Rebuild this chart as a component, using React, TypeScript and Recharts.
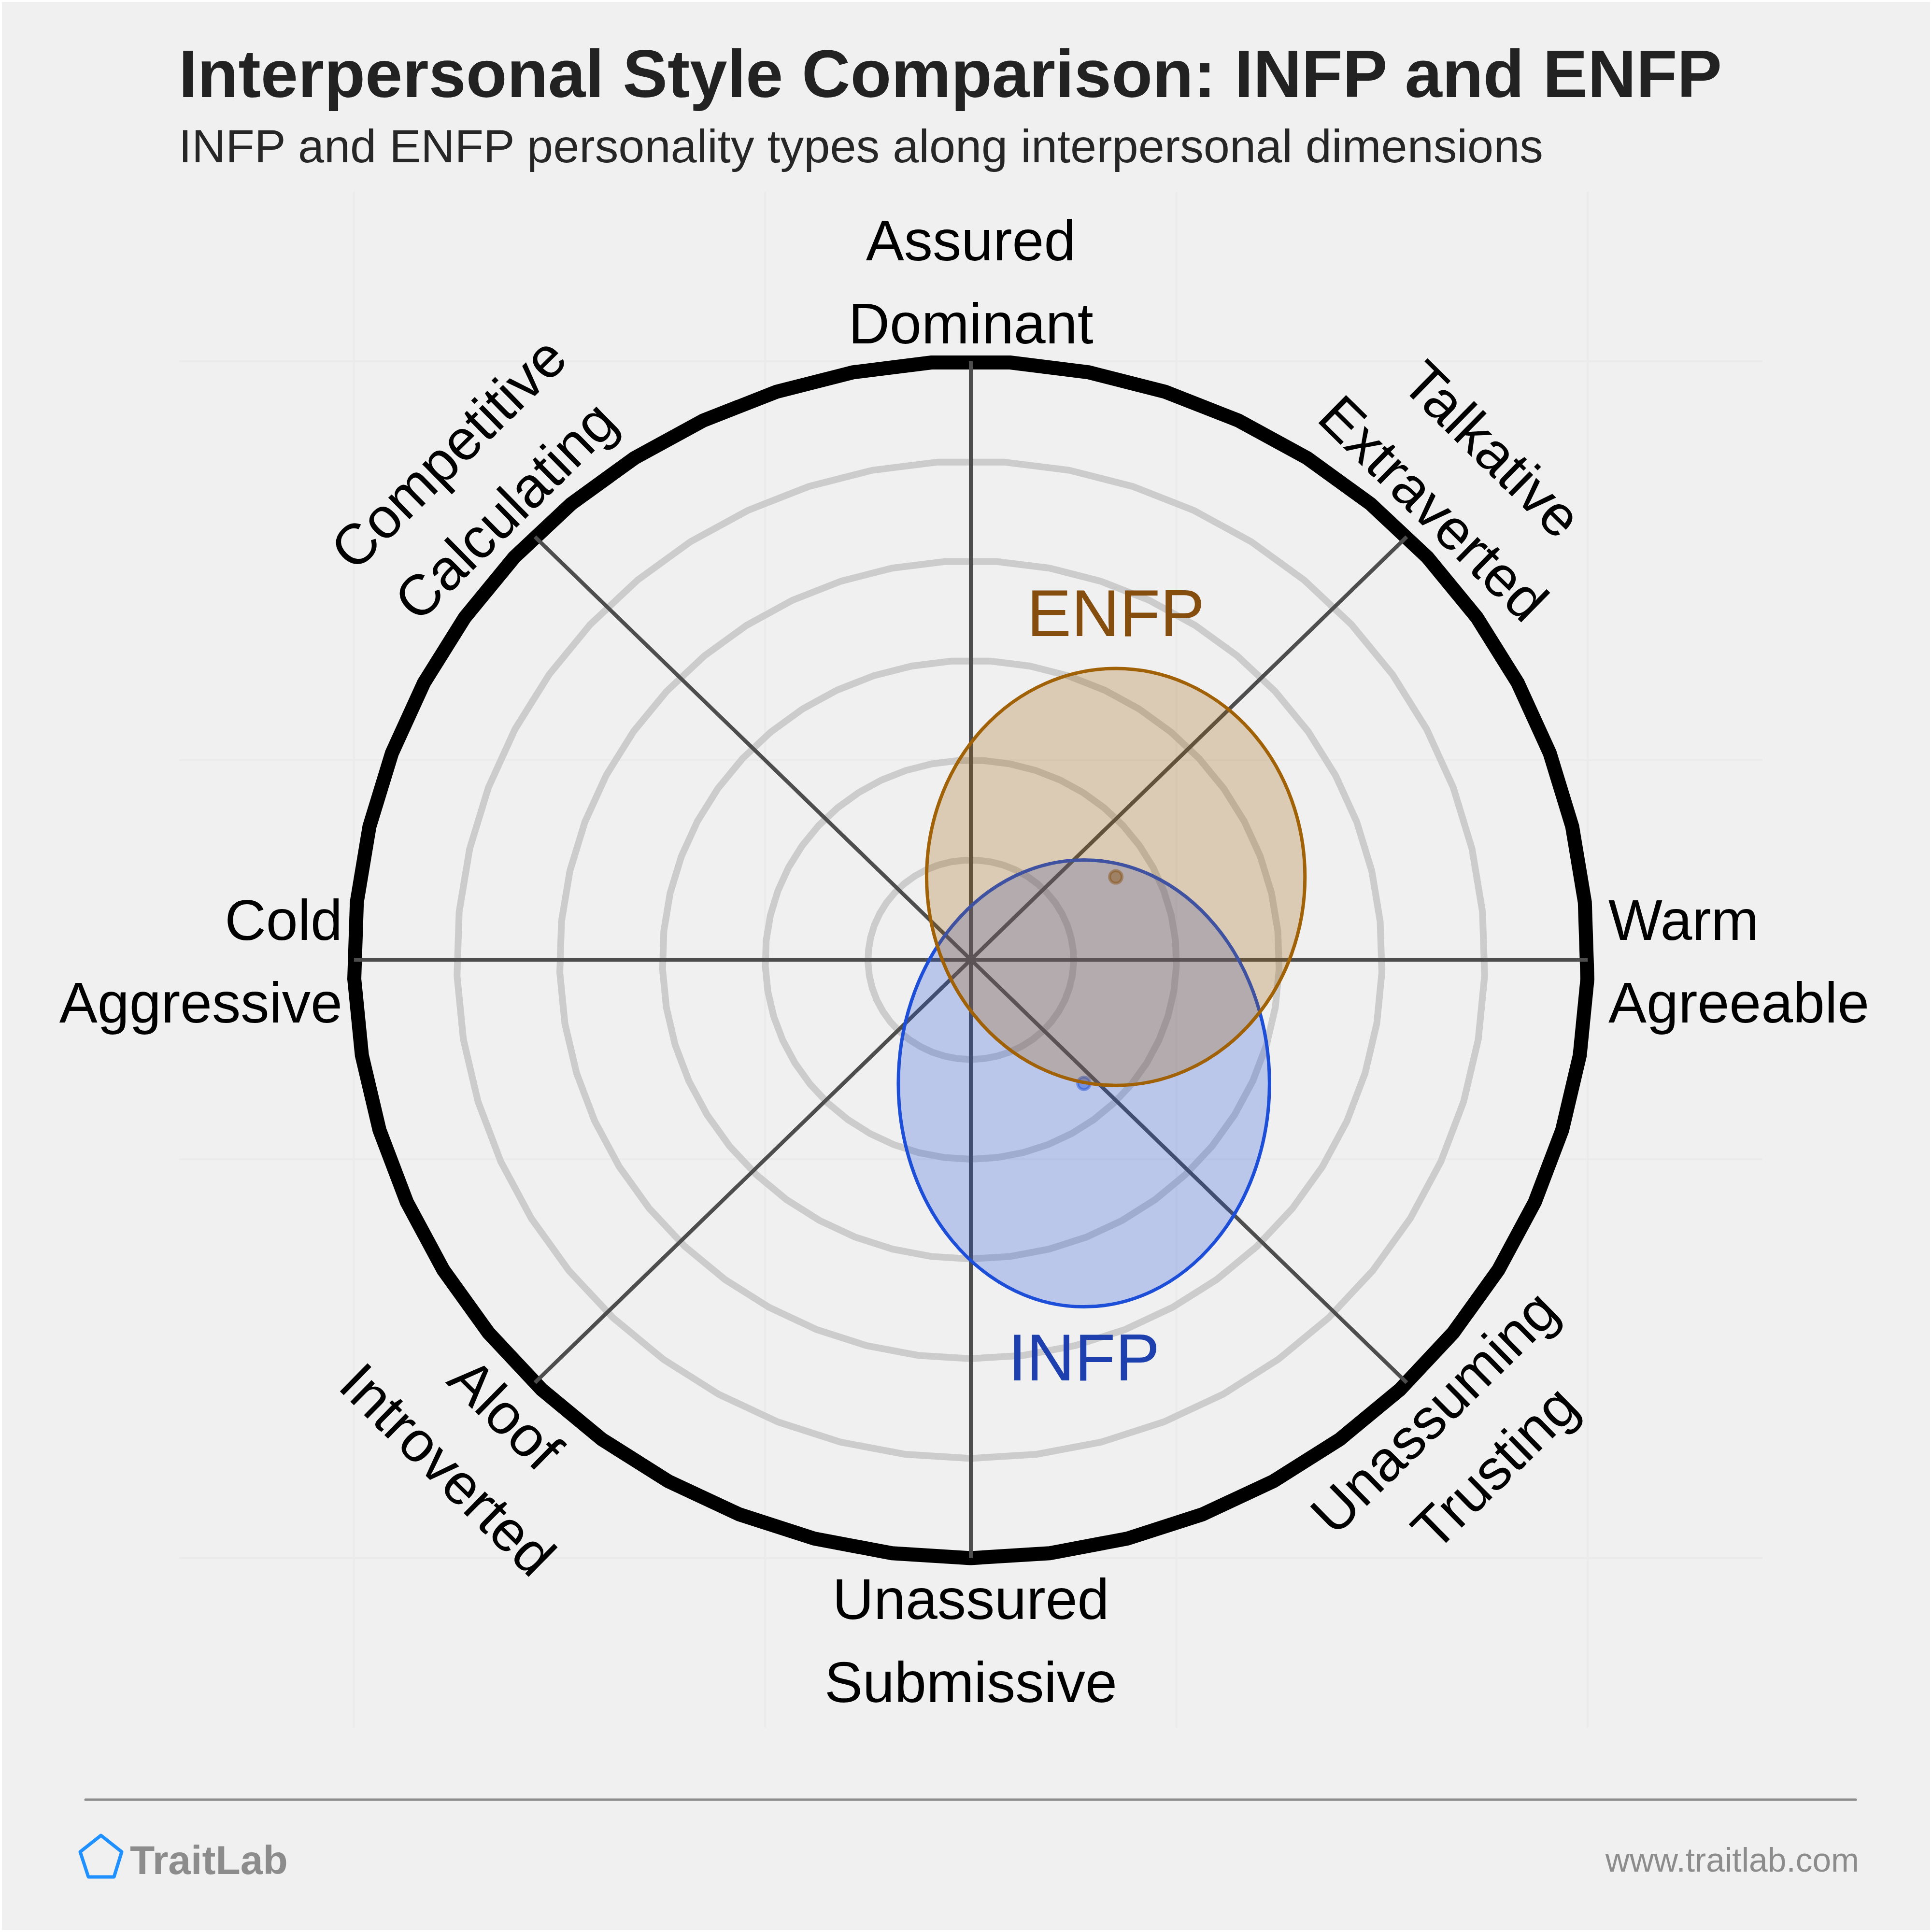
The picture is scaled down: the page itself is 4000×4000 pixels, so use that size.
import { CartesianGrid, Scatter, ScatterChart, XAxis, YAxis } from "recharts";

const gridTicks = [-6, -2, 2, 6];
const ringRadii = [1, 2, 3, 4, 5];
const outerRadii = [6];
const ringSides = 49;

const spokes = [
  [{ x: 0, y: -6 }, { x: 0, y: 6 }],
  [{ x: -6, y: 0 }, { x: 6, y: 0 }],
  [{ x: -4.24, y: -4.24 }, { x: 4.24, y: 4.24 }],
  [{ x: -4.24, y: 4.24 }, { x: 4.24, y: -4.24 }],
];

const infpRegion = [{ x: 1.1, y: -1.24, rx: 1.805, ry: 2.24 }];
const enfpRegion = [{ x: 1.41, y: 0.83, rx: 1.84, ry: 2.09 }];

const verticalLabels = ["Assured", "Dominant", "Unassured", "Submissive"];
const leftLabels = ["Cold", "Aggressive"];
const rightLabels = ["Warm", "Agreeable"];
const diagonalLabels = ["Talkative", "Extraverted", "Competitive", "Calculating", "Aloof", "Introverted", "Unassuming", "Trusting"];

const FONT = '"Liberation Sans", Arial, sans-serif';
const SIZE = 4000;
const LABEL_SIZE = 118.5;
const margin = { top: 397, left: 371, right: 351, bottom: 423 };
const plotW = SIZE - margin.left - margin.right;
const plotH = SIZE - margin.top - margin.bottom;
const DOMAIN = 7.7;
const unitX = plotW / (2 * DOMAIN);
const unitY = plotH / (2 * DOMAIN);

function ringShape(stroke: string, strokeWidth: number) {
  return (props: any) => {
    const r = props.payload.r;
    const pts: string[] = [];
    for (let k = 0; k < ringSides; k++) {
      const a = Math.PI + (k * 2 * Math.PI) / ringSides;
      pts.push(`${props.cx + Math.sin(a) * r * unitX},${props.cy - Math.cos(a) * r * unitY}`);
    }
    return <polygon points={pts.join(" ")} fill="none" stroke={stroke} strokeWidth={strokeWidth} />;
  };
}

// ellipse, centre dot and type name for one personality type
function regionShape(color: string, dotColor: string, name: string, nameColor: string, nameOffset: number) {
  return (props: any) => {
    const { rx, ry } = props.payload;
    return (
      <g>
        <ellipse cx={props.cx} cy={props.cy} rx={rx * unitX} ry={ry * unitY} fill={color} fillOpacity={0.26} stroke={color} strokeWidth={7} />
        <ellipse cx={props.cx} cy={props.cy} rx={13} ry={13} fill={dotColor} fillOpacity={0.45} stroke={dotColor} strokeOpacity={0.45} strokeWidth={6} />
        <text x={props.cx} y={props.cy + nameOffset} textAnchor="middle" fontSize={138} fill={nameColor} fontFamily={FONT}>
          {name}
        </text>
      </g>
    );
  };
}

const hiddenPoint = () => <g />;

function RotatedLabel({ x, y, angle, text }: { x: number; y: number; angle: number; text: string }) {
  return (
    <text transform={`translate(${x},${y}) rotate(${angle})`} textAnchor="middle" dy="0.35em" fontSize={LABEL_SIZE} fill="#000">
      {text}
    </text>
  );
}

export default function App() {
  return (
    <div style={{ position: "absolute", left: 0, top: 0, width: SIZE, height: SIZE, background: "#fff" }}>
      <div style={{ position: "absolute", left: 4, top: 4, width: SIZE - 8, height: SIZE - 8, background: "#f0f0f0" }} />
      <div style={{ position: "absolute", left: 0, top: 0 }}>
        <ScatterChart width={SIZE} height={SIZE} margin={margin} style={{ fontFamily: FONT }}>
          <CartesianGrid stroke="#ebebeb" strokeWidth={4} verticalValues={gridTicks} horizontalValues={gridTicks} />
          <XAxis type="number" dataKey="x" domain={[-DOMAIN, DOMAIN]} ticks={gridTicks} hide />
          <YAxis type="number" dataKey="y" domain={[-DOMAIN, DOMAIN]} ticks={gridTicks} hide />

          <Scatter data={ringRadii.map((r) => ({ x: 0, y: 0, r }))} shape={ringShape("#cccccc", 14)} isAnimationActive={false} />
          <Scatter data={outerRadii.map((r) => ({ x: 0, y: 0, r }))} shape={ringShape("#000000", 29)} isAnimationActive={false} />
          {spokes.map((spoke, i) => (
            <Scatter key={i} data={spoke} line={{ stroke: "#4d4d4d", strokeWidth: 8 }} shape={hiddenPoint} isAnimationActive={false} />
          ))}
          <Scatter data={infpRegion} shape={regionShape("#1d4ed8", "#1d4ed8", "INFP", "#1e40af", 615)} isAnimationActive={false} />
          <Scatter data={enfpRegion} shape={regionShape("#a16207", "#854d0e", "ENFP", "#854d0e", -499)} isAnimationActive={false} />

          <text x={370} y={201} fontSize={139} fontWeight={700} fill="#222222">Interpersonal Style Comparison: INFP and ENFP</text>
          <text x={370} y={336} fontSize={97.3} fill="#262626">INFP and ENFP personality types along interpersonal dimensions</text>

          <text x={2010} y={539} textAnchor="middle" fontSize={LABEL_SIZE}>{verticalLabels[0]}</text>
          <text x={2010} y={711} textAnchor="middle" fontSize={LABEL_SIZE}>{verticalLabels[1]}</text>
          <text x={2010} y={3352} textAnchor="middle" fontSize={LABEL_SIZE}>{verticalLabels[2]}</text>
          <text x={2010} y={3524} textAnchor="middle" fontSize={LABEL_SIZE}>{verticalLabels[3]}</text>
          <text x={709} y={1946} textAnchor="end" fontSize={LABEL_SIZE}>{leftLabels[0]}</text>
          <text x={709} y={2117} textAnchor="end" fontSize={LABEL_SIZE}>{leftLabels[1]}</text>
          <text x={3330} y={1946} fontSize={LABEL_SIZE}>{rightLabels[0]}</text>
          <text x={3330} y={2117} fontSize={LABEL_SIZE}>{rightLabels[1]}</text>

          <RotatedLabel x={3090} y={930} angle={44.5} text={diagonalLabels[0]} />
          <RotatedLabel x={2968} y={1052} angle={44.5} text={diagonalLabels[1]} />
          <RotatedLabel x={928} y={938} angle={-44.5} text={diagonalLabels[2]} />
          <RotatedLabel x={1046} y={1057} angle={-44.5} text={diagonalLabels[3]} />
          <RotatedLabel x={1047} y={2927} angle={44.5} text={diagonalLabels[4]} />
          <RotatedLabel x={927} y={3042} angle={44.5} text={diagonalLabels[5]} />
          <RotatedLabel x={2969} y={2923} angle={-44.5} text={diagonalLabels[6]} />
          <RotatedLabel x={3094} y={3038} angle={-44.5} text={diagonalLabels[7]} />

          <line x1={177} y1={3726} x2={3842} y2={3726} stroke="#8c8c8c" strokeWidth={5} strokeLinecap="round" />
          <polygon points="209,3800 252,3834 236,3886 183,3886 166,3834" fill="none" stroke="#1e90ff" strokeWidth={7} strokeLinejoin="round" />
          <text x={269} y={3880} fontSize={84} fontWeight={700} fill="#8c8c8c">TraitLab</text>
          <text x={3849} y={3875} textAnchor="end" fontSize={69.5} fill="#8c8c8c">www.traitlab.com</text>
        </ScatterChart>
      </div>
    </div>
  );
}
